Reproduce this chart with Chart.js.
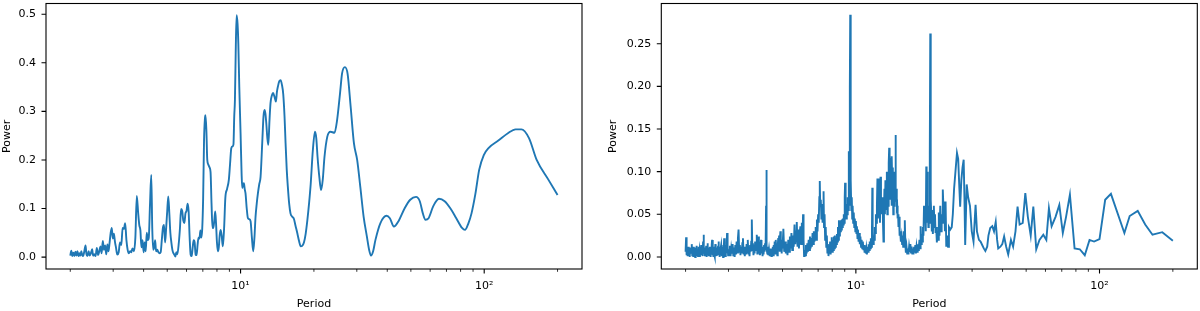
<!DOCTYPE html>
<html><head><meta charset="utf-8">
<script src="https://cdn.jsdelivr.net/npm/chart.js@4.4.1/dist/chart.umd.min.js"></script>
<style>
html,body{margin:0;padding:0;background:#fff;}
#wrap{position:relative;width:1200px;height:311px;overflow:hidden;}
canvas{position:absolute;top:0;}
</style></head><body>
<div id="wrap">
<canvas id="c1" width="600" height="311" style="left:0"></canvas>
<canvas id="c2" width="600" height="311" style="left:600px"></canvas>
</div>
<script>
// ---------- data ----------
const leftPeriod = [
2.00,2.02,2.04,2.06,2.08,2.10,2.12,2.14,2.16,2.18,
2.20,2.22,2.24,2.26,2.28,2.31,2.33,2.35,2.38,2.40,
2.43,2.46,2.48,2.51,2.54,2.57,2.60,2.63,2.66,2.69,
2.72,2.75,2.78,2.81,2.84,2.87,2.90,2.93,2.96,2.99,
3.02,3.05,3.08,3.12,3.16,3.20,3.24,3.28,3.32,3.36,
3.40,3.44,3.48,3.52,3.56,3.60,3.65,3.70,3.75,3.80,
3.84,3.88,3.92,3.96,4.00,4.04,4.08,4.12,4.16,4.20,
4.25,4.30,4.34,4.38,4.42,4.46,4.50,4.55,4.60,4.65,
4.70,4.75,4.80,4.85,4.90,4.95,5.00,5.05,5.10,5.15,
5.20,5.25,5.30,5.35,5.40,5.45,5.50,5.58,5.64,5.70,
5.76,5.82,5.88,5.94,6.00,6.06,6.12,6.18,6.24,6.30,
6.36,6.42,6.48,6.54,6.60,6.66,6.72,6.78,6.84,6.90,
6.96,7.02,7.08,7.14,7.18,7.24,7.30,7.38,7.45,7.53,
7.60,7.67,7.73,7.80,7.87,7.93,8.00,8.07,8.14,8.21,
8.28,8.36,8.46,8.56,8.66,8.80,8.95,9.05,9.16,9.28,
9.35,9.42,9.48,9.55,9.63,9.72,9.79,9.88,10.00,10.10,
10.16,10.24,10.32,10.40,10.48,10.60,10.72,10.85,10.99,11.13,
11.27,11.40,11.52,11.65,11.78,11.93,12.08,12.27,12.42,12.55,
12.65,12.75,12.88,13.00,13.14,13.27,13.45,13.60,13.78,13.96,
14.10,14.23,14.42,14.60,14.78,14.97,15.15,15.30,15.47,15.63,
15.83,16.03,16.30,16.55,16.80,17.10,17.40,17.65,17.90,18.20,
18.50,18.80,19.10,19.40,19.80,20.20,20.45,20.70,21.05,21.40,
21.75,22.10,22.70,23.40,24.30,24.90,25.60,26.10,26.80,27.50,
28.30,29.20,30.10,31.00,32.00,33.00,33.70,34.30,35.00,35.80,
37.50,39.70,41.00,42.60,44.60,47.10,49.70,52.50,54.40,56.00,
57.40,59.10,61.80,65.20,68.80,72.70,76.80,81.10,83.40,86.20,
88.70,92.00,95.40,99.60,104.40,114.30,125.10,134.50,142.10,152.70,
164.20,183.10,200.00];
const leftPower = [
0.003,0.013,0.002,0.009,0.002,0.011,0.003,0.012,0.002,0.008,
0.003,0.012,0.004,0.002,0.010,0.024,0.006,0.002,0.012,0.003,
0.008,0.016,0.003,0.006,0.002,0.019,0.004,0.012,0.022,0.008,
0.033,0.015,0.024,0.006,0.026,0.012,0.030,0.050,0.060,0.038,
0.048,0.032,0.020,0.005,0.010,0.030,0.025,0.060,0.058,0.070,
0.035,0.015,0.008,0.012,0.010,0.018,0.012,0.040,0.126,0.090,
0.066,0.055,0.020,0.035,0.010,0.030,0.012,0.050,0.035,0.040,
0.110,0.169,0.060,0.015,0.020,0.035,0.012,0.015,0.010,0.008,
0.010,0.035,0.060,0.066,0.030,0.060,0.095,0.125,0.090,0.050,
0.030,0.015,0.008,0.005,0.001,0.010,0.006,0.030,0.060,0.099,
0.095,0.075,0.070,0.090,0.095,0.110,0.095,0.040,0.005,0.002,
0.020,0.035,0.030,0.005,0.004,0.025,0.040,0.038,0.055,0.040,
0.058,0.120,0.240,0.285,0.292,0.260,0.200,0.190,0.185,0.175,
0.110,0.060,0.060,0.075,0.094,0.070,0.030,0.012,0.020,0.045,
0.056,0.045,0.022,0.060,0.122,0.140,0.159,0.190,0.224,0.228,
0.232,0.290,0.323,0.420,0.498,0.480,0.440,0.350,0.255,0.170,
0.142,0.150,0.152,0.140,0.131,0.100,0.080,0.078,0.074,0.040,
0.012,0.040,0.083,0.110,0.131,0.150,0.165,0.234,0.290,0.303,
0.295,0.276,0.245,0.231,0.280,0.317,0.333,0.338,0.330,0.320,
0.340,0.351,0.362,0.364,0.355,0.335,0.290,0.235,0.180,0.145,
0.110,0.090,0.083,0.079,0.065,0.049,0.032,0.022,0.023,0.030,
0.048,0.076,0.110,0.150,0.220,0.258,0.245,0.206,0.165,0.138,
0.160,0.206,0.248,0.258,0.256,0.282,0.337,0.378,0.391,0.377,
0.310,0.234,0.200,0.145,0.083,0.042,0.015,0.003,0.012,0.036,
0.070,0.085,0.080,0.063,0.075,0.100,0.118,0.124,0.115,0.090,
0.077,0.080,0.105,0.120,0.115,0.100,0.080,0.060,0.056,0.070,
0.090,0.130,0.180,0.210,0.225,0.240,0.255,0.263,0.263,0.245,
0.200,0.160,0.128];

const rightPeriod = [
2.00,2.01,2.02,2.03,2.04,2.05,2.06,2.07,2.08,2.09,
2.10,2.11,2.12,2.13,2.14,2.15,2.16,2.17,2.18,2.19,
2.20,2.21,2.22,2.23,2.24,2.25,2.26,2.27,2.28,2.29,
2.30,2.31,2.32,2.33,2.34,2.35,2.36,2.37,2.38,2.39,
2.40,2.41,2.42,2.43,2.44,2.45,2.46,2.47,2.48,2.49,
2.50,2.51,2.52,2.53,2.54,2.55,2.56,2.57,2.58,2.59,
2.60,2.61,2.62,2.63,2.64,2.65,2.66,2.67,2.68,2.69,
2.70,2.71,2.72,2.73,2.74,2.75,2.76,2.77,2.78,2.79,
2.80,2.81,2.82,2.83,2.84,2.85,2.86,2.87,2.88,2.89,
2.90,2.91,2.92,2.93,2.94,2.95,2.96,2.97,2.98,2.99,
3.00,3.02,3.04,3.06,3.08,3.10,3.12,3.14,3.16,3.18,
3.20,3.22,3.24,3.26,3.28,3.30,3.32,3.34,3.36,3.38,
3.40,3.42,3.44,3.46,3.48,3.50,3.52,3.54,3.56,3.58,
3.60,3.62,3.64,3.66,3.68,3.70,3.72,3.74,3.76,3.78,
3.80,3.82,3.84,3.86,3.88,3.90,3.92,3.94,3.96,3.98,
4.00,4.02,4.04,4.06,4.08,4.10,4.12,4.14,4.16,4.18,
4.20,4.22,4.24,4.26,4.28,4.29,4.31,4.33,4.35,4.37,
4.40,4.42,4.44,4.46,4.48,4.50,4.52,4.54,4.56,4.58,
4.60,4.62,4.64,4.66,4.68,4.70,4.72,4.74,4.76,4.78,
4.80,4.82,4.84,4.86,4.88,4.90,4.92,4.94,4.96,4.98,
5.00,5.04,5.08,5.12,5.16,5.20,5.24,5.28,5.32,5.36,
5.40,5.44,5.48,5.52,5.56,5.60,5.64,5.68,5.72,5.76,
5.80,5.84,5.88,5.92,5.96,6.00,6.04,6.07,6.10,6.13,
6.16,6.20,6.24,6.28,6.32,6.36,6.40,6.44,6.48,6.52,
6.56,6.60,6.64,6.68,6.72,6.76,6.80,6.84,6.88,6.92,
6.96,7.00,7.04,7.08,7.11,7.14,7.18,7.22,7.26,7.30,
7.34,7.37,7.40,7.44,7.48,7.52,7.56,7.60,7.64,7.68,
7.72,7.76,7.80,7.84,7.88,7.92,7.96,8.00,8.04,8.08,
8.12,8.16,8.20,8.24,8.28,8.32,8.36,8.40,8.44,8.48,
8.52,8.56,8.60,8.64,8.68,8.72,8.76,8.80,8.84,8.88,
8.92,8.96,9.00,9.03,9.06,9.10,9.14,9.18,9.22,9.26,
9.30,9.34,9.37,9.40,9.43,9.46,9.48,9.50,9.52,9.55,
9.58,9.62,9.66,9.70,9.75,9.80,9.85,9.90,9.95,10.00,
10.05,10.10,10.15,10.20,10.26,10.32,10.38,10.44,10.50,10.56,
10.62,10.68,10.74,10.80,10.86,10.92,10.98,11.04,11.10,11.16,
11.22,11.28,11.34,11.40,11.46,11.52,11.58,11.64,11.68,11.72,
11.78,11.84,11.90,11.96,12.02,12.08,12.14,12.20,12.26,12.32,
12.38,12.44,12.50,12.56,12.62,12.68,12.74,12.80,12.86,12.92,
12.98,13.04,13.10,13.16,13.22,13.28,13.34,13.40,13.46,13.52,
13.58,13.64,13.70,13.76,13.82,13.88,13.94,14.00,14.06,14.12,
14.18,14.24,14.30,14.36,14.42,14.48,14.54,14.60,14.66,14.72,
14.78,14.84,14.90,14.96,15.04,15.12,15.20,15.30,15.40,15.48,
15.56,15.64,15.72,15.80,15.88,15.96,16.04,16.14,16.24,16.34,
16.44,16.54,16.64,16.74,16.84,16.94,17.04,17.14,17.24,17.34,
17.44,17.54,17.64,17.74,17.84,17.94,18.04,18.14,18.24,18.34,
18.44,18.54,18.64,18.74,18.84,18.94,19.04,19.12,19.20,19.28,
19.36,19.45,19.52,19.60,19.68,19.76,19.84,19.92,20.00,20.08,
20.14,20.20,20.26,20.32,20.40,20.50,20.60,20.70,20.80,20.90,
21.00,21.12,21.24,21.36,21.50,21.62,21.76,21.90,22.04,22.20,
22.36,22.50,22.62,22.74,22.90,23.05,23.20,23.35,23.50,23.70,
23.90,24.10,24.40,24.75,25.00,25.30,25.63,26.00,26.30,26.60,
26.80,27.10,27.40,27.70,27.90,28.10,28.50,28.90,29.40,29.90,
30.40,31.00,31.40,32.00,32.50,33.00,33.50,34.00,34.60,35.00,
35.60,36.30,36.90,37.50,38.00,38.40,39.20,39.90,40.60,41.40,
42.20,43.30,44.20,45.20,46.10,47.00,48.40,49.60,50.80,52.20,
53.50,55.00,56.70,58.80,60.50,62.00,63.60,66.00,68.40,70.70,
72.90,75.60,79.00,83.00,87.00,91.00,95.00,100.00,105.50,111.40,
126.50,133.00,143.50,154.00,165.00,181.00,200.00];
const rightPower = [
0.006,0.023,0.002,0.010,0.001,0.012,0.003,0.009,0.000,0.011,
0.004,0.008,0.015,0.002,0.010,0.001,0.012,0.003,0.007,0.000,
0.011,0.002,0.013,0.004,0.009,0.001,0.012,0.002,0.008,0.000,
0.010,0.003,0.014,0.002,0.009,0.001,0.018,0.026,0.004,0.011,
0.001,0.009,0.003,0.013,0.000,0.010,0.016,0.002,0.011,0.001,
0.008,0.003,0.012,0.000,0.009,0.004,0.014,0.020,0.002,0.010,
0.001,0.012,0.003,0.009,0.000,0.015,0.002,0.010,0.001,0.011,
0.004,0.008,0.013,0.018,0.002,0.009,0.000,0.012,0.003,0.010,
0.014,0.001,0.011,0.003,0.008,0.000,0.012,0.004,0.022,0.006,
0.011,0.001,0.014,0.003,0.010,0.017,0.028,0.005,0.012,0.002,
0.009,0.002,0.013,0.001,0.010,0.004,0.015,0.002,0.011,0.000,
0.014,0.003,0.018,0.005,0.022,0.032,0.006,0.014,0.002,0.012,
0.004,0.016,0.022,0.003,0.012,0.001,0.010,0.003,0.015,0.005,
0.020,0.004,0.012,0.001,0.014,0.006,0.018,0.044,0.008,0.016,
0.002,0.013,0.004,0.018,0.007,0.015,0.026,0.004,0.012,0.024,
0.005,0.013,0.002,0.011,0.020,0.004,0.012,0.001,0.010,0.003,
0.014,0.006,0.016,0.008,0.060,0.102,0.010,0.004,0.012,0.002,
0.009,0.001,0.007,0.003,0.010,0.001,0.008,0.004,0.012,0.002,
0.014,0.005,0.018,0.004,0.012,0.020,0.006,0.015,0.002,0.013,
0.022,0.008,0.025,0.006,0.018,0.030,0.010,0.020,0.004,0.015,
0.010,0.033,0.006,0.018,0.004,0.015,0.002,0.020,0.006,0.024,
0.010,0.028,0.008,0.025,0.012,0.038,0.015,0.030,0.041,0.012,
0.032,0.010,0.028,0.036,0.015,0.040,0.022,0.050,0.020,0.001,
0.008,0.002,0.014,0.004,0.016,0.006,0.020,0.008,0.024,0.010,
0.022,0.012,0.028,0.015,0.030,0.018,0.026,0.035,0.020,0.044,
0.030,0.050,0.040,0.070,0.089,0.060,0.067,0.045,0.062,0.040,
0.055,0.077,0.035,0.050,0.020,0.035,0.012,0.025,0.005,0.015,
0.001,0.012,0.004,0.018,0.003,0.016,0.023,0.006,0.020,0.008,
0.024,0.010,0.025,0.012,0.022,0.015,0.027,0.018,0.035,0.020,
0.043,0.025,0.040,0.030,0.043,0.032,0.044,0.035,0.045,0.038,
0.050,0.040,0.070,0.087,0.050,0.060,0.045,0.062,0.050,0.070,
0.055,0.090,0.124,0.070,0.120,0.200,0.284,0.150,0.060,0.090,
0.055,0.070,0.045,0.060,0.040,0.052,0.035,0.045,0.030,0.042,
0.028,0.036,0.022,0.032,0.018,0.028,0.015,0.024,0.012,0.020,
0.010,0.018,0.008,0.014,0.005,0.012,0.004,0.010,0.003,0.012,
0.006,0.015,0.008,0.018,0.010,0.022,0.012,0.028,0.081,0.030,
0.015,0.025,0.020,0.035,0.028,0.050,0.040,0.060,0.092,0.045,
0.070,0.050,0.092,0.040,0.094,0.053,0.065,0.050,0.070,0.040,
0.018,0.055,0.080,0.050,0.090,0.055,0.085,0.100,0.050,0.095,
0.060,0.110,0.128,0.070,0.116,0.067,0.107,0.060,0.118,0.080,
0.105,0.050,0.095,0.060,0.100,0.070,0.143,0.065,0.080,0.058,
0.060,0.045,0.050,0.035,0.047,0.025,0.030,0.018,0.024,0.015,
0.025,0.012,0.030,0.020,0.043,0.015,0.005,0.012,0.004,0.010,
0.003,0.012,0.006,0.015,0.005,0.012,0.004,0.010,0.003,0.012,
0.005,0.014,0.004,0.012,0.006,0.015,0.008,0.012,0.020,0.010,
0.036,0.015,0.027,0.018,0.035,0.025,0.060,0.058,0.040,0.055,
0.030,0.106,0.045,0.100,0.040,0.060,0.035,0.060,0.040,0.050,
0.120,0.262,0.150,0.067,0.050,0.030,0.055,0.027,0.040,0.060,
0.035,0.050,0.028,0.035,0.017,0.030,0.020,0.052,0.025,0.060,
0.030,0.050,0.040,0.079,0.055,0.065,0.030,0.065,0.012,0.025,
0.012,0.035,0.032,0.035,0.050,0.080,0.100,0.122,0.115,0.080,
0.059,0.090,0.105,0.114,0.070,0.014,0.085,0.070,0.060,0.030,
0.018,0.061,0.030,0.020,0.018,0.014,0.010,0.007,0.012,0.025,
0.034,0.036,0.030,0.041,0.020,0.010,0.012,0.015,0.024,0.012,
0.003,0.020,0.012,0.030,0.059,0.038,0.040,0.075,0.047,0.025,
0.059,0.009,0.020,0.026,0.020,0.057,0.036,0.047,0.061,0.028,
0.047,0.073,0.010,0.009,0.002,0.020,0.018,0.021,0.067,0.074,
0.028,0.048,0.054,0.038,0.026,0.029,0.019];

const xMajorTicks = [10, 100];
const xMajorLabels = ['10\u00B9', '10\u00B2'];
const xMinorTicks = [2,3,4,5,6,7,8,9,20,30,40,50,60,70,80,90,200];
const leftYTicks = [0, 0.1, 0.2, 0.3, 0.4, 0.5];
const leftYLabels = ['0.0','0.1','0.2','0.3','0.4','0.5'];
const rightYTicks = [0, 0.05, 0.10, 0.15, 0.20, 0.25];
const rightYLabels = ['0.00','0.05','0.10','0.15','0.20','0.25'];
const xTitle = 'Period';
const yTitle = 'Power';

// ---------- drawing ----------
Chart.defaults.font.family = "'DejaVu Sans', sans-serif";
Chart.defaults.font.size = 11;
Chart.defaults.color = '#000';

const framePlugin = {
  id: 'mplFrame',
  afterDraw(chart) {
    const {ctx, chartArea: a, scales: {x, y}} = chart;
    ctx.save();
    ctx.strokeStyle = '#000';
    ctx.lineWidth = 1.1;
    ctx.strokeRect(a.left, a.top, a.right - a.left, a.bottom - a.top);
    ctx.beginPath();
    xMajorTicks.forEach(v => {
      const px = x.getPixelForValue(v);
      ctx.moveTo(px, a.bottom); ctx.lineTo(px, a.bottom + 4.5);
    });
    y.ticks.forEach(t => {
      const py = y.getPixelForValue(t.value);
      ctx.moveTo(a.left, py); ctx.lineTo(a.left - 4.5, py);
    });
    ctx.stroke();
    ctx.lineWidth = 0.8;
    ctx.beginPath();
    xMinorTicks.forEach(v => {
      const px = x.getPixelForValue(v);
      ctx.moveTo(px, a.bottom); ctx.lineTo(px, a.bottom + 2.8);
    });
    ctx.stroke();
    ctx.restore();
  }
};

function zeroPad(s) { s.paddingTop = 0; s.paddingBottom = 0; s.paddingLeft = 0; s.paddingRight = 0; }

function makeChart(id, periods, powers, yTicks, yLabels, yMin, yMax, opt) {
  const pts = periods.map((p, i) => ({x: p, y: powers[i]}));
  return new Chart(document.getElementById(id), {
    type: 'line',
    data: {datasets: [{
      data: pts,
      borderColor: '#1f77b4',
      borderWidth: opt.lw,
      pointRadius: 0,
      fill: false,
      cubicInterpolationMode: opt.smooth ? 'monotone' : 'default',
      tension: 0
    }]},
    options: {
      responsive: false,
      animation: false,
      events: [],
      layout: {padding: {left: 0, right: opt.padRight, top: 3.5, bottom: 0}},
      plugins: {legend: {display: false}, tooltip: {enabled: false}},
      scales: {
        x: {
          type: 'logarithmic', min: 1.59, max: 252,
          afterBuildTicks: s => { s.ticks = xMajorTicks.map(v => ({value: v, major: true})); },
          afterFit: s => { s.height = 42; zeroPad(s); },
          grid: {display: false, drawTicks: false},
          border: {display: false},
          ticks: {autoSkip: false, maxRotation: 0, padding: 11,
            callback: v => { const i = xMajorTicks.indexOf(v); return i >= 0 ? xMajorLabels[i] : ''; }},
          title: {display: true, text: xTitle, padding: {top: 0, bottom: 0}}
        },
        y: {
          min: yMin, max: yMax,
          afterBuildTicks: s => { s.ticks = yTicks.map(v => ({value: v})); },
          afterFit: s => { s.width = opt.yWidth; zeroPad(s); },
          grid: {display: false, drawTicks: false},
          border: {display: false},
          ticks: {padding: 10,
            callback: v => { const i = yTicks.indexOf(v); return i >= 0 ? yLabels[i] : ''; }},
          title: {display: true, text: yTitle, padding: {top: opt.titlePad, bottom: 0}}
        }
      }
    },
    plugins: [framePlugin]
  });
}

makeChart('c1', leftPeriod, leftPower, leftYTicks, leftYLabels, -0.0245, 0.522,
  {yWidth: 46, padRight: 18, titlePad: 0.5, lw: 1.9, smooth: true});
makeChart('c2', rightPeriod, rightPower, rightYTicks, rightYLabels, -0.01415, 0.2972,
  {yWidth: 61.3, padRight: 2.7, titlePad: 7, lw: 1.9, smooth: false});
</script>
</body></html>
